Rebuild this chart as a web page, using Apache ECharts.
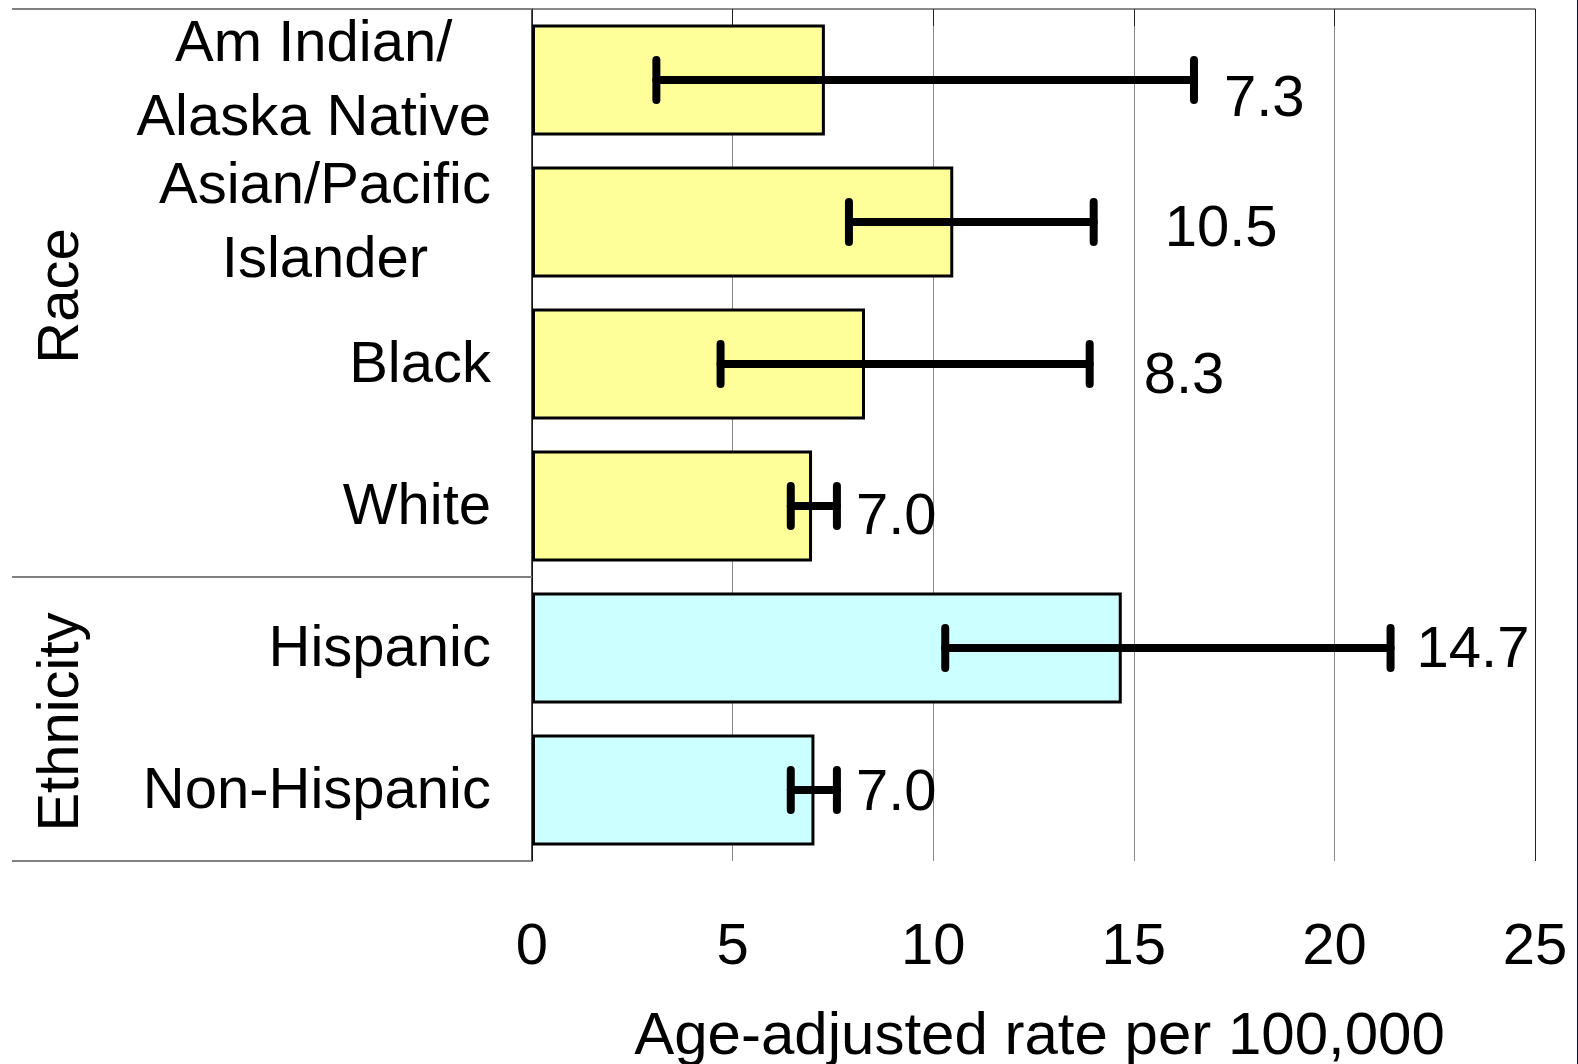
<!DOCTYPE html>
<html>
<head>
<meta charset="utf-8">
<script src="https://cdn.jsdelivr.net/npm/echarts@6/dist/echarts.min.js"></script>
<style>
  html, body { margin: 0; padding: 0; background: #fff; }
  #frame { width: 1578px; height: 1064px; box-sizing: border-box; border-right: 1px solid #000080; }
  #chart { width: 1577px; height: 1064px; }
</style>
</head>
<body>
<div id="frame"><div id="chart"></div></div>
<script>
// ---- data ----
const categories = ['Am Indian/\nAlaska Native', 'Asian/Pacific\nIslander', 'Black', 'White', 'Hispanic', 'Non-Hispanic'];
const rates = [7.3, 10.5, 8.3, 6.98, 14.7, 7.04];
const lowerCI = [3.1, 7.9, 4.7, 6.45, 10.3, 6.45];
const upperCI = [16.5, 14.0, 13.9, 7.6, 21.4, 7.6];
const rateLabels = ['7.3', '10.5', '8.3', '7.0', '14.7', '7.0'];
const groups = ['Race', 'Ethnicity'];
const groupSizes = [4, 2];
const xTicks = [0, 5, 10, 15, 20, 25];
const axisTitle = 'Age-adjusted rate per 100,000';

// ---- styles ----
const FONT = "'Liberation Sans', Arial, sans-serif";
const FS = 58;
const groupColors = ['#FFFF99', '#CCFFFF'];
const labelOffsets = [[30, 20], [71, 8], [54, 13], [19, 12], [26, 3], [19, 4]];

// derived: group boundaries and centres
const groupBounds = [0];
groupSizes.forEach(s => groupBounds.push(groupBounds[groupBounds.length - 1] + s));
const groupCenters = groupSizes.map((s, i) => groupBounds[i] + s / 2);
const barColors = [];
groupSizes.forEach((s, g) => { for (let k = 0; k < s; k++) barColors.push(groupColors[g]); });

const chart = echarts.init(document.getElementById('chart'));
chart.setOption({
  animation: false,
  backgroundColor: '#fff',
  textStyle: { fontFamily: FONT },
  grid: { left: 532, right: 42, top: 9, bottom: 203, containLabel: false, outerBoundsMode: 'none' },
  xAxis: {
    type: 'value',
    min: xTicks[0],
    max: xTicks[xTicks.length - 1],
    interval: xTicks[1] - xTicks[0],
    axisLine: { show: true, lineStyle: { color: '#666', width: 1.5 } },
    axisTick: { show: true, length: 17, lineStyle: { color: '#222', width: 1 } },
    splitLine: { show: true, lineStyle: { color: ['#222', '#888', '#888', '#888', '#888', '#222'], width: 1 } },
    axisLabel: { fontSize: FS, color: '#000', margin: 58, fontFamily: FONT },
    name: axisTitle,
    nameLocation: 'middle',
    nameGap: 146,
    nameTextStyle: { fontSize: 60, color: '#000', fontFamily: FONT, padding: [0, 0, 0, 12] }
  },
  yAxis: [
    {
      type: 'category',
      inverse: true,
      data: categories,
      axisLine: { show: true, lineStyle: { color: '#111', width: 1.5 } },
      axisTick: { show: false },
      axisLabel: {
        interval: 0,
        hideOverlap: false,
        showMinLabel: true,
        showMaxLabel: true,
        margin: 41,
        color: '#000',
        fontSize: FS,
        lineHeight: 74,
        fontFamily: FONT,
        padding: [4, 0, 0, 0],
        formatter: v => v.split('\n').map(l => '{c|' + l + '}').join('\n'),
        rich: { c: { align: 'center', fontSize: FS, lineHeight: 74, fontFamily: FONT, color: '#000' } }
      }
    },
    {
      type: 'value',
      inverse: true,
      position: 'left',
      min: 0,
      max: groupBounds[groupBounds.length - 1],
      axisLine: { show: false },
      splitLine: { show: false },
      axisTick: { show: true, customValues: groupBounds, length: 520, lineStyle: { color: '#808080', width: 2 } },
      axisLabel: {
        show: true,
        customValues: groupCenters,
        rotate: 90,
        margin: 441,
        fontSize: FS,
        color: '#000',
        fontFamily: FONT,
        padding: [0, 6, 0, 0],
        formatter: v => { const i = groupCenters.indexOf(v); return i >= 0 ? groups[i] : ''; }
      }
    }
  ],
  series: [
    {
      type: 'bar',
      yAxisIndex: 0,
      barWidth: 111,
      data: rates.map((r, i) => ({ value: r, itemStyle: { color: barColors[i] } })),
      itemStyle: { borderColor: '#000', borderWidth: 3 },
      z: 2
    },
    {
      type: 'custom',
      yAxisIndex: 0,
      z: 3,
      encode: { x: [0, 1], y: 2 },
      data: lowerCI.map((lo, i) => [lo, upperCI[i], i]),
      renderItem: function (params, api) {
        const i = params.dataIndex;
        const lo = api.coord([api.value(0), api.value(2)]);
        const hi = api.coord([api.value(1), api.value(2)]);
        const y = lo[1];
        const h = 20;
        const ls = { stroke: '#000', lineWidth: 8, lineCap: 'round' };
        const off = labelOffsets[i];
        return {
          type: 'group',
          children: [
            { type: 'line', shape: { x1: lo[0], y1: y, x2: hi[0], y2: y }, style: ls },
            { type: 'line', shape: { x1: lo[0], y1: y - h, x2: lo[0], y2: y + h }, style: ls },
            { type: 'line', shape: { x1: hi[0], y1: y - h, x2: hi[0], y2: y + h }, style: ls },
            {
              type: 'text',
              x: hi[0] + off[0],
              y: y + off[1],
              style: {
                text: rateLabels[i],
                fill: '#000',
                font: FS + 'px ' + FONT,
                align: 'left',
                verticalAlign: 'middle'
              }
            }
          ]
        };
      }
    }
  ]
});
</script>
</body>
</html>
